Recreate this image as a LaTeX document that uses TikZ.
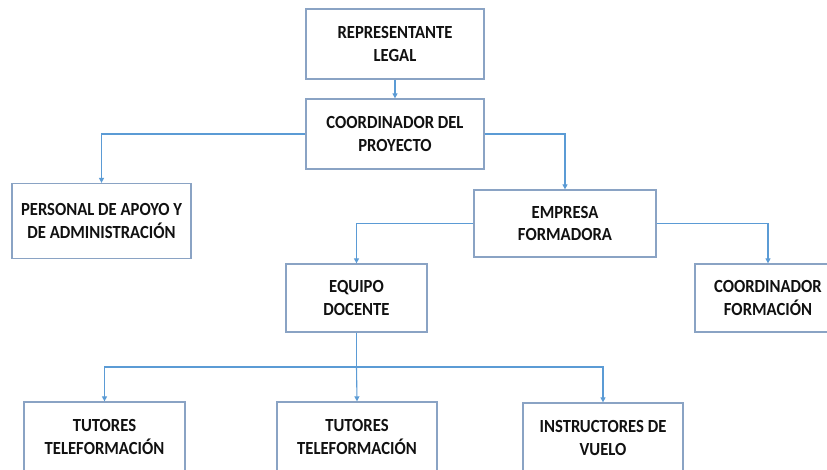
\documentclass[tikz,border=0pt]{standalone}
\usepackage{fontspec}
\setmainfont{Carlito}[FakeStretch=0.9]
\usetikzlibrary{arrows.meta}
\definecolor{boxline}{HTML}{8AA3C4}
\definecolor{conn}{HTML}{5B9BD5}
\definecolor{txt}{HTML}{111111}
\tikzset{
  orgbox/.style={draw=boxline, line width=1.3pt, fill=white, rectangle, inner sep=0pt,
    align=center, text=txt, font=\bfseries\fontsize{18.5}{22.5}\selectfont},
  link/.style={draw=conn, line width=1.1pt, -{Triangle[width=5pt,length=5pt]}},
  plain/.style={draw=conn, line width=1.1pt}
}
\begin{document}
\begin{tikzpicture}[x=1pt,y=-1pt]
\useasboundingbox (0,0) rectangle (827,469);
\clip (0,0) rectangle (827,469);
\fill[white] (0,0) rectangle (827,469);

\node[orgbox, minimum width=178pt, minimum height=70pt] (rep) at (395,44) {REPRESENTANTE\\LEGAL};
\node[orgbox, minimum width=178pt, minimum height=70pt] (coord) at (395,134) {COORDINADOR DEL\\PROYECTO};
\node[orgbox, minimum width=179pt, minimum height=75pt] (pers) at (101.5,221) {PERSONAL DE APOYO Y\\DE ADMINISTRACIÓN};
\node[orgbox, minimum width=182pt, minimum height=67pt] (emp) at (565,223.5) {EMPRESA\\FORMADORA};
\node[orgbox, minimum width=141pt, minimum height=68pt] (eq) at (356.5,298) {EQUIPO\\DOCENTE};
\node[orgbox, minimum width=146pt, minimum height=68pt] (cf) at (768,298) {COORDINADOR\\FORMACIÓN};
\node[orgbox, minimum width=161pt, minimum height=70pt] (t1) at (104.5,437) {TUTORES\\TELEFORMACIÓN};
\node[orgbox, minimum width=160pt, minimum height=70pt] (t2) at (357,437) {TUTORES\\TELEFORMACIÓN};
\node[orgbox, minimum width=160pt, minimum height=70pt] (ins) at (603,438) {INSTRUCTORES DE\\VUELO};

\draw[link] (rep.south) -- (coord.north);
\draw[link] (coord.west) -| (pers.north);
\draw[link] (coord.east) -| (emp.north);
\draw[link] (emp.west) -| (eq.north);
\draw[link] (emp.east) -| (cf.north);
\coordinate (j) at (eq.south |- 0,367);
\draw[plain] (eq.south) -- (j);
\draw[link] (j) -| (t1.north);
\draw[link] (j) -- (t2.north);
\draw[link] (j) -| (ins.north);
\end{tikzpicture}
\end{document}
